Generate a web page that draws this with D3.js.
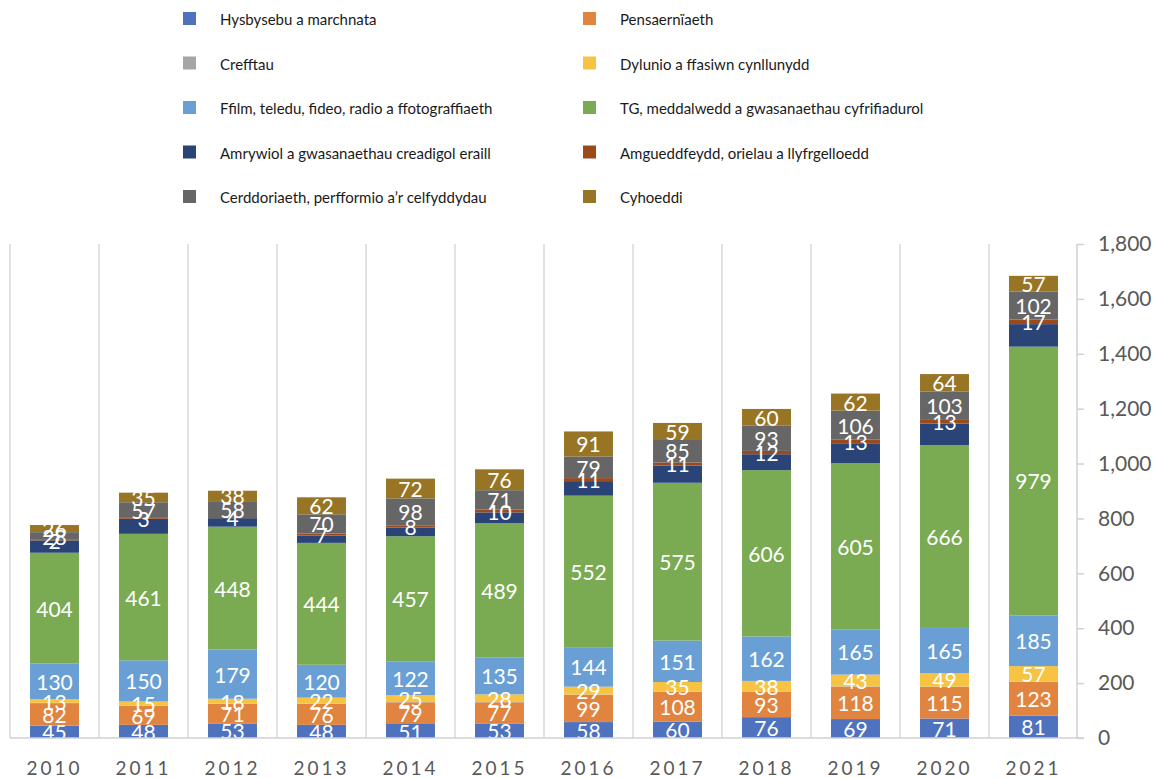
<!DOCTYPE html>
<html>
<head>
<meta charset="utf-8">
<script src="https://cdn.jsdelivr.net/npm/d3@7/dist/d3.min.js"></script>
<style>
  html, body { margin: 0; padding: 0; background: #fff; }
  svg { display: block; }
</style>
</head>
<body>
<svg id="chart" width="1161" height="778"></svg>
<script>
const years = ["2010","2011","2012","2013","2014","2015","2016","2017","2018","2019","2020","2021"];
const seriesNames = [
  "Hysbysebu a marchnata",
  "Pensaerníaeth",
  "Crefftau",
  "Dylunio a ffasiwn cynllunydd",
  "Ffilm, teledu, fideo, radio a ffotograffiaeth",
  "TG, meddalwedd a gwasanaethau cyfrifiadurol",
  "Amrywiol a gwasanaethau creadigol eraill",
  "Amgueddfeydd, orielau a llyfrgelloedd",
  "Cerddoriaeth, perfformio a\u2019r celfyddydau",
  "Cyhoeddi"
];
seriesNames[1] = "Pensaern\u00efaeth";
const hysbysebu    = [45, 48, 53, 48, 51, 53, 58, 60, 76, 69, 71, 81];
const pensaerniaeth= [82, 69, 71, 76, 79, 77, 99, 108, 93, 118, 115, 123];
const crefftau     = [1, 1, 1, 1, 1, 1, 1, 1, 1, 1, 1, 1];
const dylunio      = [13, 15, 18, 22, 25, 28, 29, 35, 38, 43, 49, 57];
const ffilm        = [130, 150, 179, 120, 122, 135, 144, 151, 162, 165, 165, 185];
const tg           = [404, 461, 448, 444, 457, 489, 552, 575, 606, 605, 666, 979];
const amrywiol     = [45, 55, 31, 27, 32, 39, 53, 63, 58, 73, 79, 82];
const amgueddfeydd = [2, 3, 4, 7, 8, 10, 11, 11, 12, 13, 13, 17];
const cerddoriaeth = [28, 57, 58, 70, 98, 71, 79, 85, 93, 106, 103, 102];
const cyhoeddi     = [26, 35, 38, 62, 72, 76, 91, 59, 60, 62, 64, 57];
const yTicks = [0, 200, 400, 600, 800, 1000, 1200, 1400, 1600, 1800];

const seriesValues = [hysbysebu, pensaerniaeth, crefftau, dylunio, ffilm, tg, amrywiol, amgueddfeydd, cerddoriaeth, cyhoeddi];
const colors = ["#4E72BE","#E0843F","#A5A5A5","#F6C343","#6A9FD5","#7AAB52","#2A4477","#9B4A1C","#666666","#977524"];
const showLabel = [true, true, false, true, true, true, false, true, true, true];

const keys = seriesNames.map((d, i) => "s" + i);
const table = years.map((y, j) => {
  const row = { year: y };
  keys.forEach((k, i) => row[k] = seriesValues[i][j]);
  return row;
});

const svg = d3.select("#chart");
const font = "Lato, 'Open Sans', 'DejaVu Sans', sans-serif";

const x = d3.scaleBand().domain(years).range([10, 1078]).paddingInner(0.45).paddingOuter(0.225);
const y = d3.scaleLinear().domain([0, 1800]).range([738, 244]);

// separators
const step = x.step();
const sepX = d3.range(years.length).map(i => x(years[i]) - x.paddingOuter() * step);
svg.append("g").selectAll("line").data(sepX).join("line")
  .attr("x1", d => d).attr("x2", d => d)
  .attr("y1", y(1800)).attr("y2", y(0))
  .attr("stroke", "#d9d9d9").attr("stroke-width", 1.5);

// stacks
const stack = d3.stack().keys(keys)(table);
const gBars = svg.append("g");
stack.forEach((layer, i) => {
  gBars.append("g").attr("fill", colors[i])
    .selectAll("rect").data(layer).join("rect")
    .attr("x", d => x(d.data.year))
    .attr("width", x.bandwidth())
    .attr("y", d => y(d[1]))
    .attr("height", d => Math.max(0, y(d[0]) - y(d[1])));
});

// clip for labels
svg.append("clipPath").attr("id", "plotclip").append("rect")
  .attr("x", 0).attr("y", 0).attr("width", 1078).attr("height", y(0));

const gLab = svg.append("g").attr("clip-path", "url(#plotclip)");
stack.forEach((layer, i) => {
  if (!showLabel[i]) return;
  gLab.append("g").selectAll("text").data(layer).join("text")
    .attr("x", d => x(d.data.year) + x.bandwidth() / 2)
    .attr("y", d => (y(d[0]) + y(d[1])) / 2)
    .attr("text-anchor", "middle")
    .attr("dominant-baseline", "central")
    .attr("fill", "#ffffff")
    .attr("font-family", font)
    .attr("font-size", 21)
    .text(d => d.data[keys[i]]);
});

// right axis
const yAxis = d3.axisRight(y).tickValues(yTicks).tickSize(7).tickPadding(14)
  .tickFormat(d3.format(","));
const ga = svg.append("g").attr("transform", "translate(1077,0)").call(yAxis);
ga.select(".domain").attr("stroke", "#d0d0d0").attr("stroke-width", 1.5).attr("d", `M0,${y(1800)}V${y(0)}`);
ga.selectAll(".tick line").attr("stroke", "#d0d0d0").attr("stroke-width", 1.5);
ga.selectAll(".tick text").attr("fill", "#595959").attr("font-family", font).attr("font-size", 21);

// baseline
svg.append("line").attr("x1", 10).attr("x2", 1084).attr("y1", y(0)).attr("y2", y(0))
  .attr("stroke", "#d0d0d0").attr("stroke-width", 1.5);

// category labels
const xAxis = d3.axisBottom(x).tickSize(0).tickPadding(0);
const gx = svg.append("g").attr("transform", "translate(0,0)").call(xAxis);
gx.select(".domain").remove();
gx.selectAll(".tick text")
  .attr("y", 775).attr("dy", null)
  .attr("fill", "#595959").attr("font-family", font).attr("font-size", 19)
  .attr("letter-spacing", "3px");

// legend
const legend = svg.append("g");
seriesNames.forEach((name, i) => {
  const col = i % 2, row = Math.floor(i / 2);
  const lx = col === 0 ? 183 : 583;
  const ly = 19 + row * 44.5;
  legend.append("rect").attr("x", lx).attr("y", ly - 7).attr("width", 13).attr("height", 13).attr("fill", colors[i]);
  legend.append("text").attr("x", lx + 37).attr("y", ly).attr("dominant-baseline", "central")
    .attr("fill", "#1a1a1a").attr("font-family", font).attr("font-size", 15).text(name);
});
</script>
</body>
</html>
